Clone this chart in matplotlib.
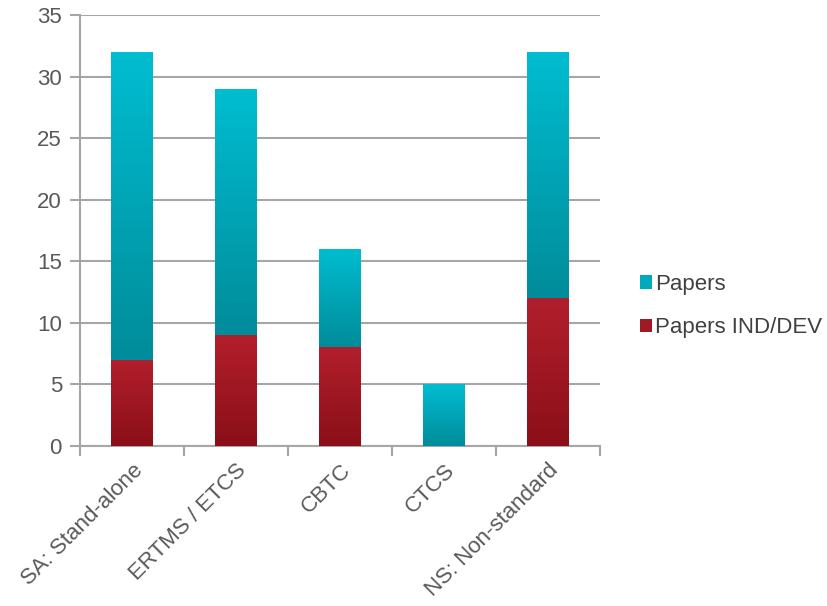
import matplotlib.pyplot as plt
import numpy as np
from matplotlib.patches import Patch
from matplotlib.colors import LinearSegmentedColormap

plt.rcParams['font.family'] = ['Liberation Sans', 'DejaVu Sans']

categories = ['SA: Stand-alone', 'ERTMS / ETCS', 'CBTC', 'CTCS', 'NS: Non-standard']
papers_ind_dev = [7, 9, 8, 0, 12]
papers = [25, 20, 8, 5, 20]

cyan_cmap = LinearSegmentedColormap.from_list('cy', ['#008c9a', '#00bdd1'])
red_cmap = LinearSegmentedColormap.from_list('rd', ['#8a0f18', '#b21f2c'])

fig = plt.figure(figsize=(8.28, 6.06), dpi=100)
ax = fig.add_axes([80 / 828, 1 - 446 / 606, 520 / 828, 431 / 606])

x = np.arange(len(categories))
bars_red = ax.bar(x, papers_ind_dev, width=0.4, color='none', zorder=3)
bars_cy = ax.bar(x, papers, width=0.4, bottom=papers_ind_dev, color='none', zorder=3)

grad = np.linspace(0, 1, 256).reshape(-1, 1)


def fill_gradient(bars, cmap):
    for b in bars:
        if b.get_height() <= 0:
            continue
        x0, y0 = b.get_x(), b.get_y()
        im = ax.imshow(grad, cmap=cmap, origin='lower', aspect='auto',
                       extent=[x0, x0 + b.get_width(), y0, y0 + b.get_height()],
                       zorder=3)
        im.set_clip_path(b)


fill_gradient(bars_red, red_cmap)
fill_gradient(bars_cy, cyan_cmap)

ax.set_xlim(-0.5, len(categories) - 0.5)
ax.set_ylim(0, 35)
ax.set_yticks(range(0, 36, 5))
ax.yaxis.grid(True, color='#a6a6a6', linewidth=1.5, zorder=0)
ax.set_axisbelow(True)

ax.set_xticks(x)
ax.set_xticklabels(categories, rotation=45, ha='right', rotation_mode='anchor')
ax.set_xticks(np.arange(-0.5, len(categories), 1), minor=True)
ax.tick_params(axis='x', which='major', length=0, pad=10)
ax.tick_params(axis='x', which='minor', length=7, width=1.5, color='#a6a6a6', direction='out')
ax.tick_params(axis='y', length=7, width=1.5, color='#a6a6a6', direction='out', pad=6)
ax.tick_params(labelsize=16, labelcolor='#595959')

for s in ['top', 'right']:
    ax.spines[s].set_visible(False)
for s in ['left', 'bottom']:
    ax.spines[s].set_color('#a6a6a6')
    ax.spines[s].set_linewidth(1.5)

handles = [Patch(facecolor='#00aabd', label='Papers'),
           Patch(facecolor='#a01a25', label='Papers IND/DEV')]
fig.legend(handles=handles, loc='center left', bbox_to_anchor=(631 / 828, 1 - 306 / 606),
           frameon=False, fontsize=16, labelcolor='#404040', handlelength=0.55,
           handleheight=0.55, handletextpad=0.15, labelspacing=1.0, borderaxespad=0)

fig.savefig('out.png', dpi=100)
